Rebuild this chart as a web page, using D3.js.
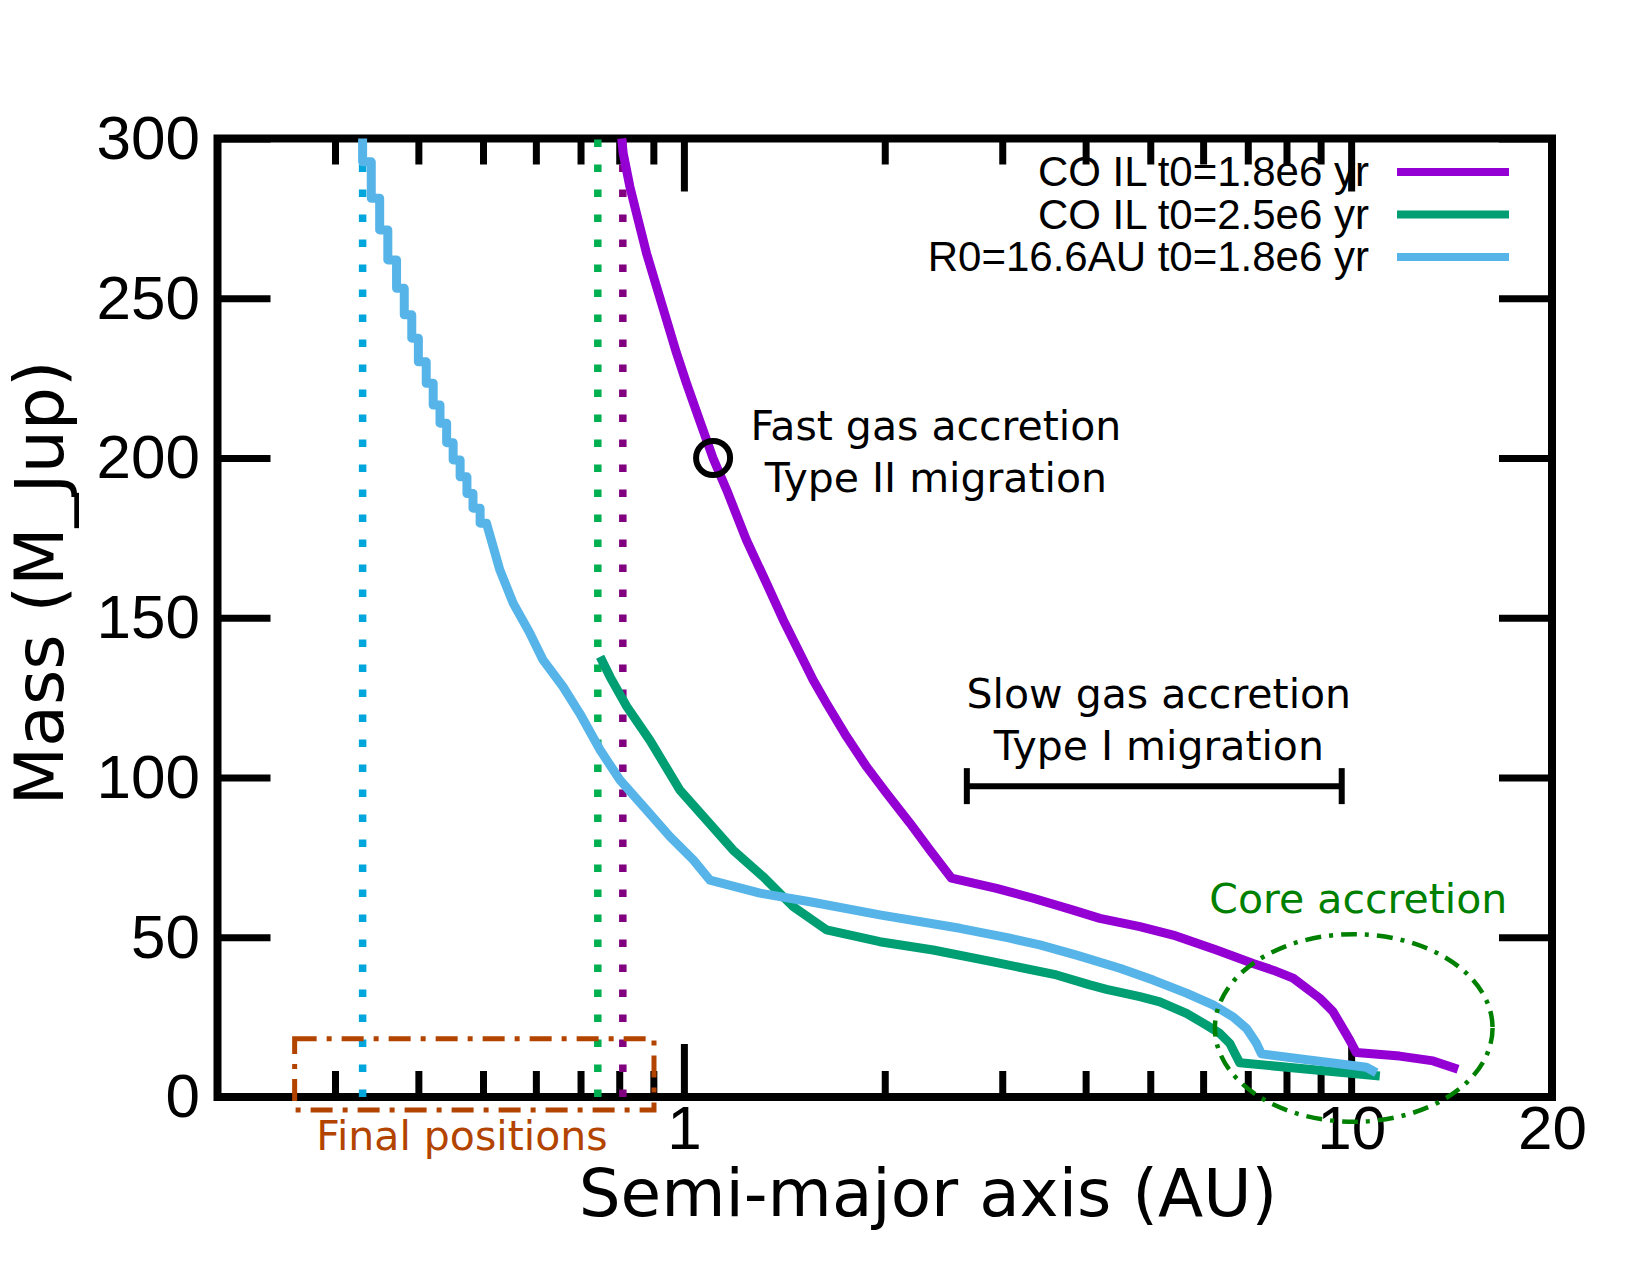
<!DOCTYPE html>
<html>
<head>
<meta charset="utf-8">
<script src="https://cdn.jsdelivr.net/npm/d3@7"></script>
<style>
  body { margin: 0; background: #fff; }
</style>
</head>
<body>
<div id="chart"></div>
<script>
// Values: semi-major axis (AU) vs mass (M_Jup)
const purpleA = [0.807, 0.811, 0.830, 0.854, 0.879, 0.910, 0.942, 0.975, 1.009, 1.051, 1.106, 1.159, 1.241, 1.330, 1.409, 1.492, 1.562, 1.636, 1.753, 1.878, 2.012, 2.182, 2.337, 2.518, 2.941, 3.338, 3.831, 4.201, 4.823, 5.410, 6.284, 7.129, 7.638, 8.185, 8.974, 9.396, 9.952, 10.18, 11.82, 13.27, 14.46];
const purpleM = [300, 295.4, 284.9, 274.5, 264.1, 253.6, 243.2, 232.8, 223.4, 212.9, 199.9, 190.0, 174.3, 160.8, 149.3, 138.9, 130.5, 123.2, 112.8, 103.4, 95.1, 85.7, 77.3, 68.5, 65.3, 62.2, 58.5, 55.9, 53.3, 50.7, 46.0, 41.8, 39.7, 37.2, 30.9, 26.7, 17.8, 13.9, 12.8, 11.3, 8.7];

const greenA = [0.749, 0.775, 0.821, 0.889, 0.986, 1.081, 1.185, 1.314, 1.458, 1.636, 1.966, 2.363, 2.907, 3.618, 4.058, 4.300, 4.823, 5.168, 5.665, 6.070, 6.355, 6.578, 6.693, 6.809, 11.04];
const greenM = [137.8, 131.5, 122.2, 111.7, 96.1, 86.7, 77.3, 69.0, 59.6, 52.3, 48.6, 46.0, 42.3, 38.2, 35.1, 33.7, 31.4, 29.8, 26.2, 22.5, 19.9, 16.8, 13.7, 10.7, 6.6];

// upper part of the light blue track is a staircase
const cyanStepA = [0.330, 0.340, 0.350, 0.360, 0.371, 0.381, 0.391, 0.400, 0.411, 0.421, 0.431, 0.441, 0.451, 0.462, 0.473, 0.483, 0.495, 0.506];
const cyanStepM = [300, 292.7, 281.3, 271.4, 262.0, 253.1, 244.8, 237.5, 230.1, 223.4, 216.6, 210.9, 204.8, 199.4, 194.1, 188.9, 184.3, 179.6];
const cyanA = [0.506, 0.530, 0.555, 0.588, 0.615, 0.659, 0.698, 0.749, 0.802, 0.879, 0.953, 1.033, 1.094, 1.300, 1.545, 1.966, 2.592, 3.080, 3.415, 3.876, 4.501, 5.050, 5.665, 6.209, 6.653, 6.967, 7.212, 7.338, 10.54, 10.91];
const cyanM = [179.6, 164.9, 154.5, 145.1, 136.8, 128.4, 120.1, 108.6, 99.2, 89.8, 81.5, 74.2, 67.9, 63.8, 61.1, 57.0, 52.8, 49.7, 47.6, 44.4, 40.3, 36.6, 32.5, 28.8, 25.1, 21.5, 16.8, 13.5, 9.3, 7.6];

const seriesNames = ["CO IL t0=1.8e6 yr", "CO IL t0=2.5e6 yr", "R0=16.6AU t0=1.8e6 yr"];
const seriesColors = ["#9400d3", "#009e73", "#56b4e9"];

// final positions (dotted verticals)
const finalA = [0.330, 0.743, 0.810];
const finalColors = ["#00a6dc", "#00b050", "#800080"];

const xMajor = [1, 10, 20];
const xMinor = [0.3, 0.4, 0.5, 0.6, 0.7, 0.8, 0.9, 2, 3, 4, 5, 6, 7, 8, 9];
const yTicks = [0, 50, 100, 150, 200, 250, 300];

const width = 1650, height = 1275;
const margin = { top: 138.5, right: 98, bottom: 178, left: 217.5 };
const innerW = width - margin.left - margin.right;
const innerH = height - margin.top - margin.bottom;

const svg = d3.select("#chart").append("svg")
    .attr("width", width)
    .attr("height", height);

const g = svg.append("g")
    .attr("transform", `translate(${margin.left},${margin.top})`);

const x = d3.scaleLog().domain([0.2, 20]).range([0, innerW]);
const y = d3.scaleLinear().domain([0, 300]).range([innerH, 0]);

const tickFont = "'Liberation Sans', Arial, Helvetica, sans-serif";
const labelFont = "'DejaVu Sans', Verdana, sans-serif";

function styleAxis(sel) {
    sel.select(".domain").remove();
    sel.selectAll("line").attr("stroke", "#000").attr("stroke-width", 7);
    sel.selectAll("text")
        .attr("font-family", tickFont)
        .attr("font-size", 62)
        .attr("fill", "#000");
}

// ticks point inward, gnuplot style
g.append("g")
    .attr("transform", `translate(0,${innerH})`)
    .call(d3.axisBottom(x).tickValues(xMajor).tickFormat(d3.format("d")).tickSize(-53).tickPadding(8))
    .call(styleAxis);
g.append("g")
    .attr("transform", `translate(0,${innerH})`)
    .call(d3.axisBottom(x).tickValues(xMinor).tickFormat("").tickSize(-26))
    .call(styleAxis);
g.append("g")
    .call(d3.axisTop(x).tickValues([1, 10]).tickFormat("").tickSize(-53))
    .call(styleAxis);
g.append("g")
    .call(d3.axisTop(x).tickValues(xMinor).tickFormat("").tickSize(-26))
    .call(styleAxis);
g.append("g")
    .call(d3.axisLeft(y).tickValues(yTicks).tickSize(-53).tickPadding(17.5))
    .call(styleAxis);
g.append("g")
    .attr("transform", `translate(${innerW},0)`)
    .call(d3.axisRight(y).tickValues(yTicks).tickFormat("").tickSize(-53))
    .call(styleAxis);

g.append("rect")
    .attr("width", innerW)
    .attr("height", innerH)
    .attr("fill", "none")
    .attr("stroke", "#000")
    .attr("stroke-width", 8);

// axis titles
svg.append("text")
    .attr("x", 928)
    .attr("y", 1216)
    .attr("text-anchor", "middle")
    .attr("font-family", labelFont)
    .attr("font-size", 66)
    .text("Semi-major axis (AU)");

svg.append("text")
    .attr("transform", "translate(63,583) rotate(-90)")
    .attr("text-anchor", "middle")
    .attr("font-family", labelFont)
    .attr("font-size", 68)
    .text("Mass (M_Jup)");

// dotted lines at the final positions
finalA.forEach((a, i) => {
    g.append("line")
        .attr("x1", x(a)).attr("x2", x(a))
        .attr("y1", y(0)).attr("y2", y(300))
        .attr("stroke", finalColors[i])
        .attr("stroke-width", 7.5)
        .attr("stroke-dasharray", "7.5,17.5");
});

// tracks
const zip = (a, m) => a.map((v, i) => [v, m[i]]);
const line = d3.line().x(d => x(d[0])).y(d => y(d[1]));
const stepLine = d3.line().x(d => x(d[0])).y(d => y(d[1])).curve(d3.curveStepBefore);

const tracks = [
    line(zip(purpleA, purpleM)),
    line(zip(greenA, greenM)),
    stepLine(zip(cyanStepA, cyanStepM)) + line(zip(cyanA, cyanM)).replace(/^M/, "L")
];

tracks.forEach((d, i) => {
    g.append("path")
        .attr("d", d)
        .attr("fill", "none")
        .attr("stroke", seriesColors[i])
        .attr("stroke-width", 9)
        .attr("stroke-linejoin", "round");
});

// legend
seriesNames.forEach((name, i) => {
    const by = 186 + i * 42.5;
    svg.append("text")
        .attr("x", 1369)
        .attr("y", by)
        .attr("text-anchor", "end")
        .attr("font-family", tickFont)
        .attr("font-size", 42)
        .text(name);
    svg.append("line")
        .attr("x1", 1397).attr("x2", 1509)
        .attr("y1", by - 14).attr("y2", by - 14)
        .attr("stroke", seriesColors[i])
        .attr("stroke-width", 8);
});

// annotations
function note(lines, a, m, color, lineGap) {
    lines.forEach((t, i) => {
        g.append("text")
            .attr("x", x(a))
            .attr("y", y(m) + i * lineGap)
            .attr("text-anchor", "middle")
            .attr("font-family", labelFont)
            .attr("font-size", 41)
            .attr("fill", color)
            .text(t);
    });
}

g.append("circle")
    .attr("cx", x(1.106))
    .attr("cy", y(200))
    .attr("r", 17)
    .attr("fill", "none")
    .attr("stroke", "#000")
    .attr("stroke-width", 6);
note(["Fast gas accretion", "Type II migration"], 2.386, 205.6, "#000", 52);

note(["Slow gas accretion", "Type I migration"], 5.150, 121.8, "#000", 52);
const barY = y(97.3);
g.append("line")
    .attr("x1", x(2.655)).attr("x2", x(9.68))
    .attr("y1", barY).attr("y2", barY)
    .attr("stroke", "#000").attr("stroke-width", 6);
[2.655, 9.68].forEach(a => {
    g.append("line")
        .attr("x1", x(a)).attr("x2", x(a))
        .attr("y1", barY - 18).attr("y2", barY + 18)
        .attr("stroke", "#000").attr("stroke-width", 6);
});

note(["Core accretion"], 10.25, 57.6, "#008000", 0);
g.append("ellipse")
    .attr("cx", x(10.09))
    .attr("cy", y(21.6))
    .attr("rx", (x(16.28) - x(6.245)) / 2)
    .attr("ry", (y(-7.7) - y(51.0)) / 2)
    .attr("fill", "none")
    .attr("stroke", "#008000")
    .attr("stroke-width", 4.5)
    .attr("stroke-dasharray", "16,8,4,8");

g.append("rect")
    .attr("x", x(0.261))
    .attr("y", y(18.2))
    .attr("width", x(0.902) - x(0.261))
    .attr("height", y(-4.1) - y(18.2))
    .attr("fill", "none")
    .attr("stroke", "#b34400")
    .attr("stroke-width", 5)
    .attr("stroke-dasharray", "22,10,5,10");
note(["Final positions"], 0.4649, -16.6, "#b34400", 0);
</script>
</body>
</html>
